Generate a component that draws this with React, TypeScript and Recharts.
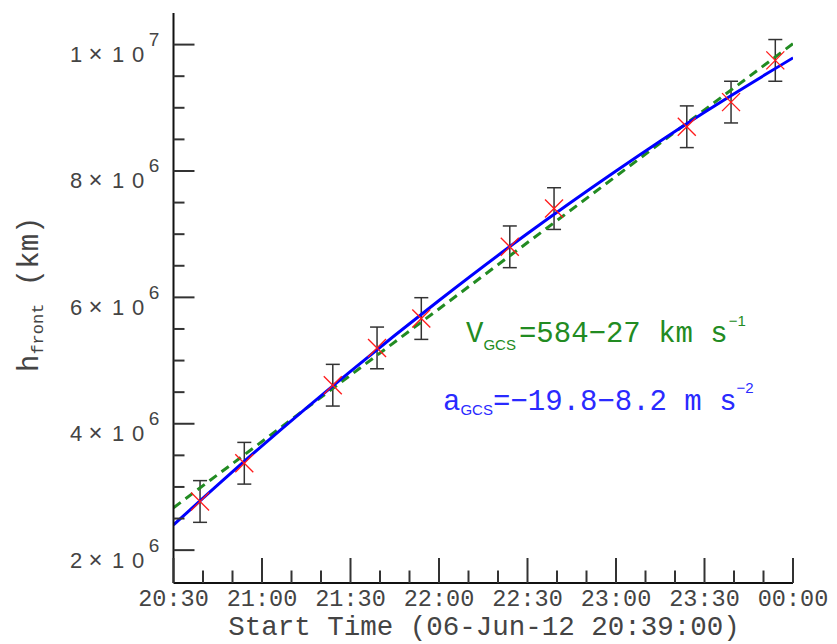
import { ComposedChart, Line, Scatter, ErrorBar, XAxis, YAxis } from "recharts";

// observations: time (UT) of each frame, CME front height (km), error (km)
const POINT_TIMES = ["20:39", "20:54", "21:24", "21:39", "21:54", "22:24", "22:39", "23:24", "23:39", "23:54"];
const POINT_H = [2.77e6, 3.375e6, 4.61e6, 5.2e6, 5.665e6, 6.8e6, 7.405e6, 8.7e6, 9.09e6, 9.75e6];
const POINT_ERR = [3.3e5, 3.3e5, 3.3e5, 3.3e5, 3.3e5, 3.3e5, 3.3e5, 3.3e5, 3.3e5, 3.3e5];

// quadratic fit (blue) read at the half-hour marks
const QUAD_TIMES = ["20:30", "21:00", "21:30", "22:00", "22:30", "23:00", "23:30", "00:00"];
const QUAD_H = [2.4e6, 3.65e6, 4.83e6, 5.95e6, 7.01e6, 8.0e6, 8.93e6, 9.79e6];

// linear fit (green dashed)
const LIN_TIMES = ["20:30", "00:00"];
const LIN_H = [2.67e6, 1.0015e7];

const X_LABELS = ["20:30", "21:00", "21:30", "22:00", "22:30", "23:00", "23:30", "00:00"];
const Y_MAJOR = [2e6, 4e6, 6e6, 8e6, 1e7];
const Y_MANT = ["2", "4", "6", "8", "1"];
const Y_EXP = ["6", "6", "6", "6", "7"];

const MONO = "'Liberation Mono', 'DejaVu Sans Mono', monospace";
const SANS = "'Liberation Sans', Arial, sans-serif";
const INK = "#333";
const TXT = "#444";
const GREEN = "#228b22";
const BLUE = "#0000ff";

const W = 837;
const H = 644;
const X_MIN = 0;
const X_MAX = 210;
const Y_MIN = 1.48e6;
const Y_MAX = 1.05e7;

const toMin = (s: string) => {
  const [h, m] = s.split(":").map(Number);
  return (h * 60 + m - (20 * 60 + 30) + 1440) % 1440;
};

const points = POINT_TIMES.map((t, i) => ({ t: toMin(t), h: POINT_H[i], err: POINT_ERR[i] }));
const quad = QUAD_TIMES.map((t, i) => ({ t: toMin(t), h: QUAD_H[i] }));
const lin = LIN_TIMES.map((t, i) => ({ t: toMin(t), h: LIN_H[i] }));

const X_TICKS = Array.from({ length: 22 }, (_, i) => i * 10);
const Y_TICKS = Array.from({ length: 17 }, (_, i) => 2e6 + i * 5e5);

function BottomTick({ x, y, payload }: any) {
  const v = payload.value as number;
  const major = v % 30 === 0;
  return (
    <g>
      <line x1={x} x2={x} y1={y} y2={y - (major ? 25 : 12.5)} stroke={INK} strokeWidth={2} />
      {major && (
        <text x={x} y={y + 22.5} textAnchor="middle" fontFamily={MONO} fontSize={23.5} fill={TXT}>
          {X_LABELS[v / 30]}
        </text>
      )}
    </g>
  );
}

function TopTick({ x, y, payload }: any) {
  const major = (payload.value as number) % 30 === 0;
  return <line x1={x} x2={x} y1={y} y2={y + (major ? 26 : 13)} stroke={INK} strokeWidth={2} />;
}

function LeftTick({ x, y, payload }: any) {
  const v = payload.value as number;
  const idx = Y_MAJOR.indexOf(v);
  const major = idx >= 0;
  return (
    <g>
      <line x1={x} x2={x + (major ? 21 : 11)} y1={y} y2={y} stroke={INK} strokeWidth={2} />
      {major && (
        <g fontFamily={SANS} fill={TXT} textAnchor="middle">
          <text x={x - 97.5} y={y + 17.5} fontSize={22}>{Y_MANT[idx]}</text>
          <text x={x - 78} y={y + 17.5} fontSize={24}>×</text>
          <text x={x - 55.5} y={y + 17.5} fontSize={22}>1</text>
          <text x={x - 35.5} y={y + 17.5} fontSize={22}>0</text>
          <text x={x - 19.5} y={y + 1.5} fontSize={19}>{Y_EXP[idx]}</text>
        </g>
      )}
    </g>
  );
}

function RightTick({ x, y, payload }: any) {
  const major = Y_MAJOR.indexOf(payload.value as number) >= 0;
  return <line x1={x} x2={x - (major ? 21 : 11)} y1={y} y2={y} stroke={INK} strokeWidth={2} />;
}

function Cross({ cx, cy }: any) {
  const r = 9;
  return (
    <g stroke="#ff1a1a" strokeWidth={1.3}>
      <line x1={cx - r} y1={cy - r} x2={cx + r} y2={cy + r} />
      <line x1={cx - r} y1={cy + r} x2={cx + r} y2={cy - r} />
    </g>
  );
}

export default function App() {
  return (
    <div style={{ position: "absolute", left: 0, top: 0, width: W, height: H, background: "#fff" }}>
      <ComposedChart width={W} height={H} margin={{ top: 13, right: 44, bottom: 0, left: 0 }}>
        <XAxis
          dataKey="t"
          type="number"
          domain={[X_MIN, X_MAX]}
          ticks={X_TICKS}
          interval={0}
          allowDataOverflow
          height={61}
          tickSize={0}
          tickMargin={0}
          tickLine={false}
          tick={BottomTick}
          axisLine={{ stroke: "#111", strokeWidth: 2 }}
        />
        <XAxis
          xAxisId="top"
          orientation="top"
          dataKey="t"
          type="number"
          domain={[X_MIN, X_MAX]}
          ticks={X_TICKS}
          interval={0}
          allowDataOverflow
          height={0}
          tickSize={0}
          tickMargin={0}
          tickLine={false}
          tick={TopTick}
          axisLine={{ stroke: "#111", strokeWidth: 2 }}
        />
        <YAxis
          dataKey="h"
          type="number"
          domain={[Y_MIN, Y_MAX]}
          ticks={Y_TICKS}
          interval={0}
          allowDataOverflow
          width={173.5}
          tickSize={0}
          tickMargin={0}
          tickLine={false}
          tick={LeftTick}
          axisLine={{ stroke: "#111", strokeWidth: 2 }}
        />
        <YAxis
          yAxisId="right"
          orientation="right"
          dataKey="h"
          type="number"
          domain={[Y_MIN, Y_MAX]}
          ticks={Y_TICKS}
          interval={0}
          allowDataOverflow
          width={0}
          tickSize={0}
          tickMargin={0}
          tickLine={false}
          tick={RightTick}
          axisLine={{ stroke: "#111", strokeWidth: 2 }}
        />
        <Scatter data={points} dataKey="h" shape={Cross} isAnimationActive={false}>
          <ErrorBar dataKey="err" direction="y" width={7} stroke={INK} strokeWidth={1.5} />
        </Scatter>
        <Line
          data={lin}
          dataKey="h"
          type="linear"
          stroke={GREEN}
          strokeWidth={3}
          strokeDasharray="9 6"
          dot={false}
          isAnimationActive={false}
        />
        <Line
          data={quad}
          dataKey="h"
          type="monotone"
          stroke={BLUE}
          strokeWidth={3}
          dot={false}
          isAnimationActive={false}
        />
      </ComposedChart>
      <svg
        width={W}
        height={H}
        style={{ position: "absolute", left: 0, top: 0, pointerEvents: "none" }}
      >
        <text x={484} y={635} textAnchor="middle" fontFamily={MONO} fontSize={27.5} fill={TXT}>
          Start Time (06-Jun-12 20:39:00)
        </text>
        <text transform="rotate(-90 38 372)" x={38} y={372} fontFamily={MONO} fontSize={29} fill={TXT}>
          h
          <tspan fontSize={17} dy={5}>front</tspan>
          <tspan fontSize={29} dy={-5}> (km)</tspan>
        </text>
        <text x={466} y={342} fontFamily={MONO} fontSize={29} fill={GREEN}>
          V
          <tspan fontFamily={SANS} fontSize={15} dy={8}>GCS</tspan>
          <tspan dy={-8} dx={3}>=584−27 km s</tspan>
          <tspan fontFamily={SANS} fontSize={15} dy={-16} dx={1}>−1</tspan>
        </text>
        <text x={443} y={410} fontFamily={MONO} fontSize={29} fill="#2a2aff">
          a
          <tspan fontFamily={SANS} fontSize={15} dy={5}>GCS</tspan>
          <tspan dy={-5}>=−19.8−8.2 m s</tspan>
          <tspan fontFamily={SANS} fontSize={15} dy={-17}>−2</tspan>
        </text>
      </svg>
    </div>
  );
}
